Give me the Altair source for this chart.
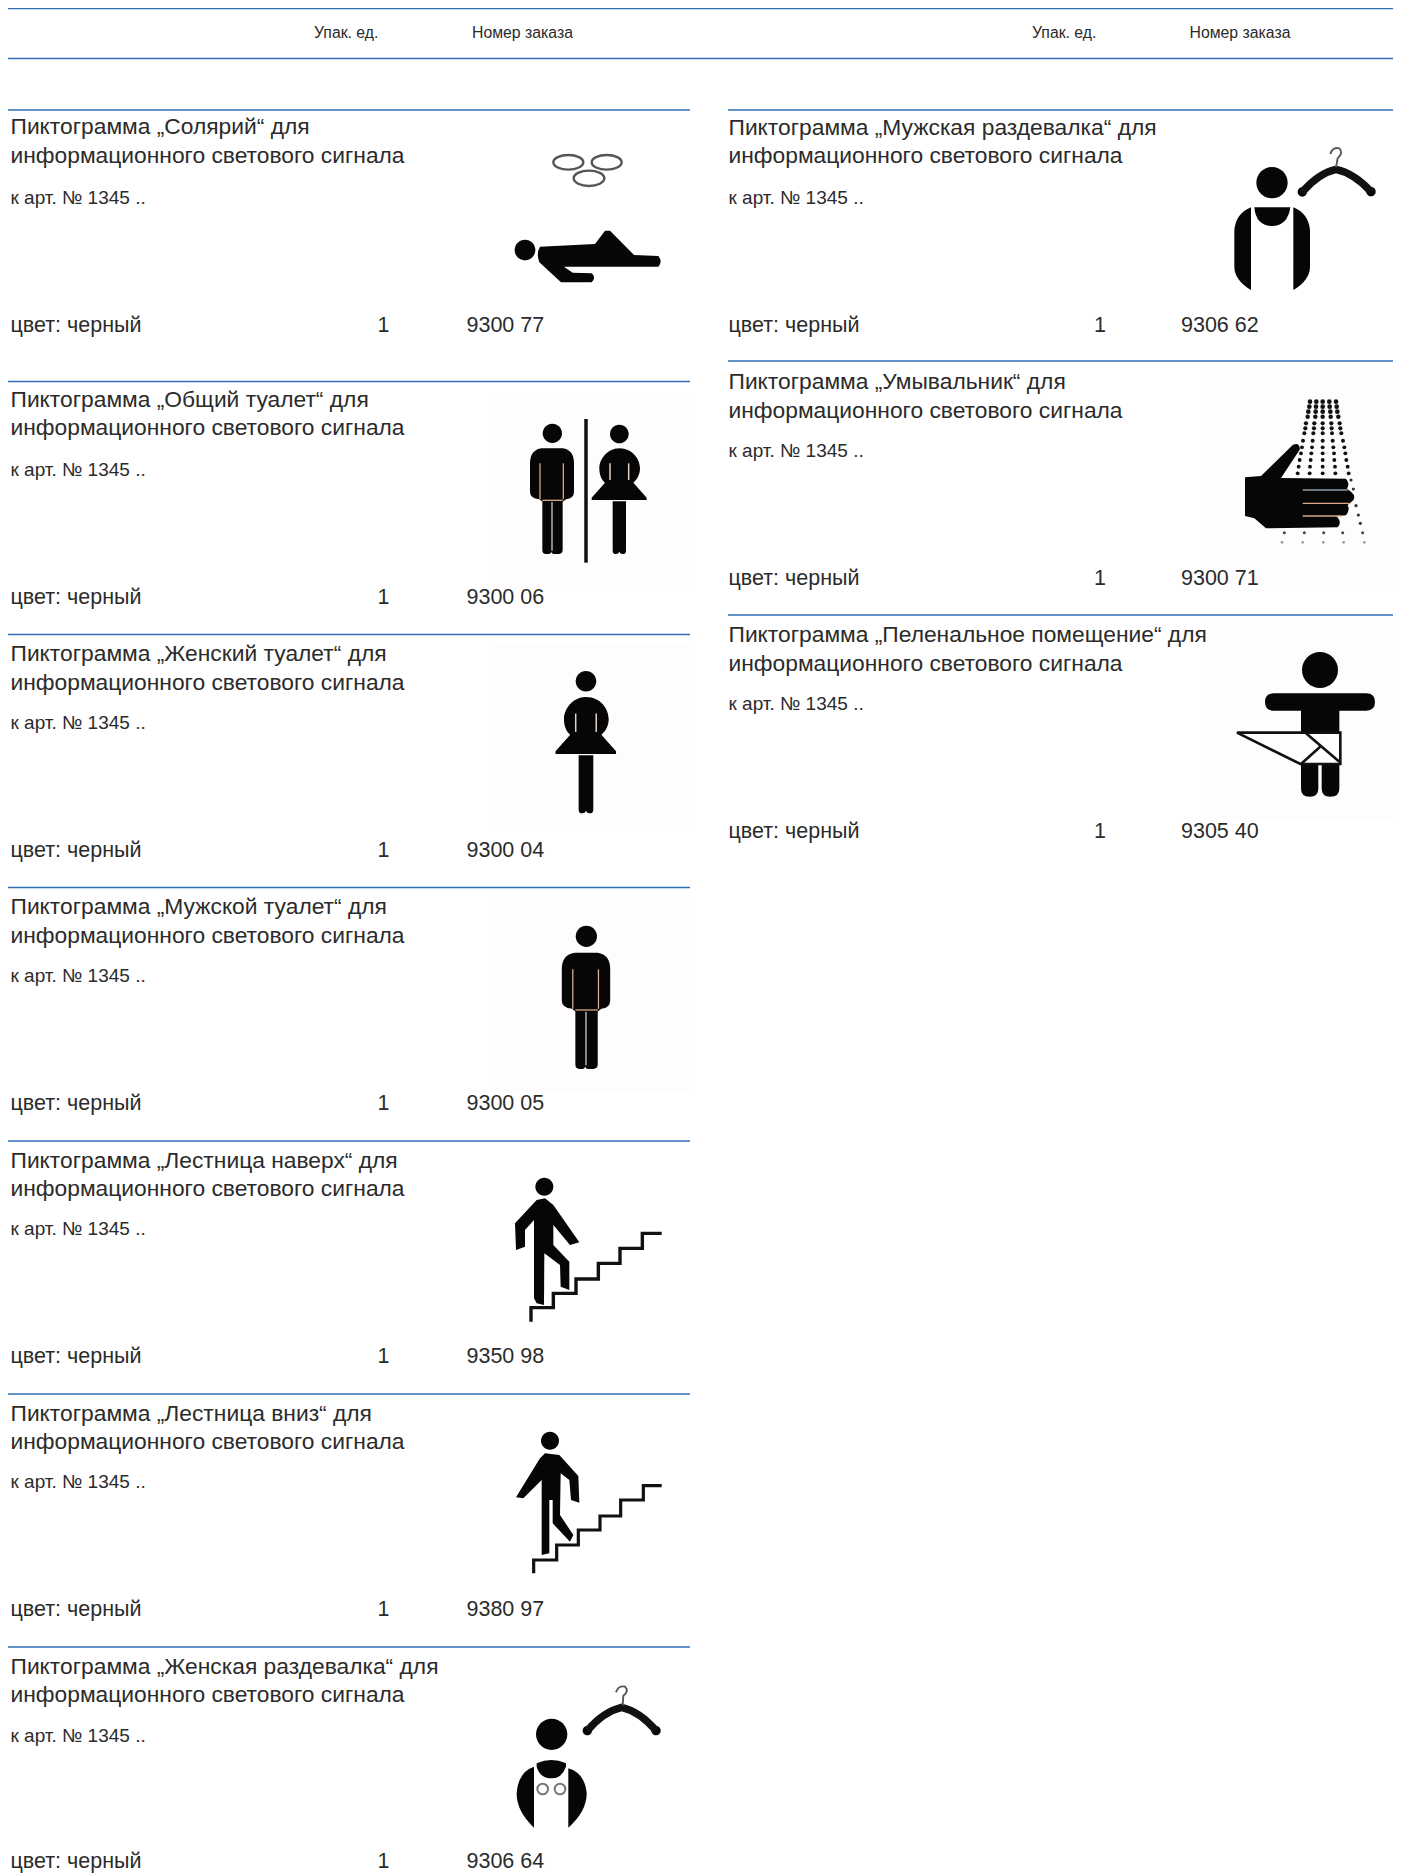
import altair as alt
import pandas as pd

RULE_BLUE = "#2f6fb3"
TEXT = "#2b2b2b"
FONT = "Liberation Sans"

# page header
HEADER_X = [314, 472, 1032, 1189.5]
HEADER_LABELS = ["Упак. ед.", "Номер заказа", "Упак. ед.", "Номер заказа"]
HEADER_Y = 33
HEADER_RULES_Y = [8.5, 58.5]

# catalogue rows
ROW_X = [10.5, 10.5, 10.5, 10.5, 10.5, 10.5, 10.5, 728.5, 728.5, 728.5]
ROW_RULE_Y = [110, 381.5, 634.5, 887.5, 1141, 1394, 1647, 110, 361, 615]
ROW_L1_Y = [127, 399.5, 654, 906.5, 1161, 1414, 1667, 127.5, 381.5, 634.5]
ROW_L2_Y = [156, 428, 683, 935.5, 1189, 1442, 1694.5, 156, 410.5, 663.5]
ROW_REF_Y = [198, 469.5, 722.5, 975.5, 1229, 1482, 1735.5, 198, 450.5, 703.5]
ROW_BOTTOM_Y = [326, 597.5, 851, 1104, 1357, 1610, 1862, 326, 579, 832]
ROW_TITLES = [
    "Пиктограмма „Солярий“ для",
    "Пиктограмма „Общий туалет“ для",
    "Пиктограмма „Женский туалет“  для",
    "Пиктограмма „Мужской туалет“ для",
    "Пиктограмма „Лестница наверх“ для",
    "Пиктограмма „Лестница вниз“ для",
    "Пиктограмма „Женская раздевалка“  для",
    "Пиктограмма „Мужская раздевалка“ для",
    "Пиктограмма „Умывальник“ для",
    "Пиктограмма „Пеленальное помещение“ для",
]
ROW_SECOND_LINE = "информационного светового сигнала"
ROW_REF = "к арт. № 1345 .."
ROW_COLOUR = "цвет: черный"
ROW_QTY = "1"
ROW_ORDER = ["9300 77", "9300 06", "9300 04", "9300 05", "9350 98",
             "9380 97", "9306 64", "9306 62", "9300 71", "9305 40"]
ROW_QTY_X = [377.5, 377.5, 377.5, 377.5, 377.5, 377.5, 377.5, 1094, 1094, 1094]
ROW_ORDER_X = [466.5, 466.5, 466.5, 466.5, 466.5, 466.5, 466.5, 1181, 1181, 1181]
COLUMN_LEFT = [8, 8, 8, 8, 8, 8, 8, 728, 728, 728]
COLUMN_RIGHT = [690, 690, 690, 690, 690, 690, 690, 1401, 1401, 1401]

# faint image backgrounds: left, right, top, bottom
TINT_X1 = [490, 490, 490, 1206, 1206]
TINT_X2 = [690, 690, 690, 1401, 1401]
TINT_Y1 = [392, 645, 898, 370, 622]
TINT_Y2 = [590, 830, 1092, 585, 820]


def oval(cx, cy, rx, ry=None):
    ry = rx if ry is None else ry
    kx, ky = rx * 0.5523, ry * 0.5523
    return (f"M{cx-rx},{cy} C{cx-rx},{cy-ky} {cx-kx},{cy-ry} {cx},{cy-ry} "
            f"C{cx+kx},{cy-ry} {cx+rx},{cy-ky} {cx+rx},{cy} "
            f"C{cx+rx},{cy+ky} {cx+kx},{cy+ry} {cx},{cy+ry} "
            f"C{cx-kx},{cy+ry} {cx-rx},{cy+ky} {cx-rx},{cy} Z")


MAN_FILL = [
    oval(187, 100, 29),
    "M155,145 L218,145 Q252,150 252,190 L252,275 Q252,295 228,298 L218,305 L218,450 Q218,462 205,462 "
    "L195,462 Q185,462 184,455 Q183,462 172,462 L168,462 Q157,462 157,450 L157,305 L148,298 "
    "Q120,295 120,275 L120,190 Q120,150 155,145 Z",
]
MAN_LINES = [
    ("M150,190 L150,298", "#d9a98a", 1.3),
    ("M220,190 L220,298", "#d9a98a", 1.3),
    ("M157,301 L218,301", "#d9a98a", 1.3),
    ("M186,306 L186,452", "#dddddd", 1.2),
]
WOMAN_FILL = [
    oval(388, 102, 28),
    "M388,145 C430,145 450,180 450,205 C450,225 440,240 430,248 L470,293 L470,300 L305,300 L305,293 "
    "L345,248 C335,240 328,225 328,205 C328,180 350,145 388,145 Z",
    "M368,304 L408,304 L408,452 Q408,462 398,462 Q390,462 388,455 Q386,462 378,462 Q368,462 368,452 Z",
]
WOMAN_LINES = [
    ("M360,190 L360,240", "#e6d2c4", 1.5),
    ("M416,190 L416,240", "#e6d2c4", 1.5),
]

PICTO_FILLS = {
    "solarium": [
        oval(105, 360, 31),
        "M150,350 L315,342 L345,302 L360,302 L432,375 L505,378 Q519,395 505,410 L222,410 L248,428 L305,430 "
        "Q320,442 305,457 L213,457 L148,397 Q138,370 150,350 Z",
    ],
    "wc": MAN_FILL + WOMAN_FILL,
    "woman": WOMAN_FILL,
    "man": MAN_FILL,
    "up": [
        oval(163, 65, 27),
        "M165,100 L190,120 L268,232 L240,240 L190,180 L190,240 L238,290 L238,375 L212,365 L210,300 L163,265 "
        "L162,420 L140,415 L132,400 L132,165 L105,195 L105,245 L78,255 L75,175 L140,105 Z",
    ],
    "down": [
        oval(180, 62, 27),
        "M165,100 L208,105 L265,168 L268,248 L243,240 L238,180 L212,160 L210,285 L250,345 L240,365 L188,310 "
        "L188,240 L178,240 L178,400 L155,405 L155,180 L100,235 L78,232 L150,115 Z",
    ],
    "wardrobe_f": [
        oval(185, 208, 47),
        oval(292, 197, 14),
        oval(498, 197, 14),
        "M140,295 Q185,275 228,295 L228,305 Q215,340 185,340 Q150,340 140,305 Z",
        "M132,305 L132,488 Q80,440 80,385 Q85,320 132,305 Z",
        "M235,310 L235,488 Q290,440 290,385 Q285,325 235,310 Z",
    ],
    "wardrobe_m": [
        oval(213, 158, 47),
        oval(304, 186, 14),
        oval(510, 185, 14),
        "M160,232 L268,232 Q260,288 213,288 Q165,288 160,232 Z",
        "M150,232 L150,480 Q100,450 100,410 L100,300 Q105,250 150,232 Z",
        "M277,232 L277,480 Q327,450 327,410 L327,300 Q322,250 277,232 Z",
    ],
    "hand": [
        "M132,262 L180,258 L275,165 Q295,155 297,178 L240,264 L435,266 Q448,280 438,296 L450,305 Q470,322 450,337 "
        "L440,345 Q448,360 435,376 L405,378 Q425,395 410,412 L195,415 L160,385 L132,378 Z",
    ],
    "baby": [
        oval(357, 90, 54),
        "M218,160 L496,160 Q522,160 522,186 Q522,212 496,212 L415,212 L415,278 L300,278 L300,212 L218,212 "
        "Q192,212 192,186 Q192,160 218,160 Z",
        "M300,372 L352,372 L352,446 Q352,470 326,470 Q300,470 300,446 Z",
        "M362,372 L415,372 L415,446 Q415,470 388,470 Q362,470 362,446 Z",
    ],
}
PICTO_LINES = {
    "solarium": [
        (oval(235, 97, 45, 22), "#555555", 2.4),
        (oval(350, 97, 45, 22), "#555555", 2.4),
        (oval(297, 145, 46, 23), "#555555", 2.4),
    ],
    "wc": MAN_LINES + WOMAN_LINES + [("M288,57 L288,488", "#111111", 3.5)],
    "woman": WOMAN_LINES,
    "man": MAN_LINES,
    "up": [("M123,470 L123,428 L190,428 L190,385 L258,385 L258,342 L325,342 L325,295 L390,295 L390,250 L457,250 L457,205 L515,205",
            "#111111", 3.4)],
    "down": [("M131,460 L131,420 L200,420 L200,375 L265,375 L265,330 L330,330 L330,288 L392,288 L392,240 L460,240 L460,197 L515,197",
              "#111111", 3.2)],
    "wardrobe_f": [
        ("M292,197 Q340,140 395,127 Q450,140 498,197", "#111111", 7.5),
        ("M378,82 Q385,60 405,65 Q418,78 400,92 L398,122", "#555555", 1.9),
        (oval(158, 372, 16), "#777777", 2),
        (oval(210, 372, 16), "#777777", 2),
    ],
    "wardrobe_m": [
        ("M304,186 Q352,130 405,118 Q460,130 510,185", "#111111", 7.5),
        ("M388,72 Q395,50 415,55 Q428,68 410,85 L405,112", "#555555", 1.9),
    ],
    "hand": [
        ("M305,300 L440,300", "#8f9aa5", 1.4),
        ("M305,340 L445,340", "#d9a98a", 1.4),
        ("M305,378 L420,378", "#d9a98a", 1.4),
    ],
    "baby": [
        ("M108,278 L418,278 L418,372 L298,372 Z", "#111111", 2.6),
        ("M315,280 L415,365", "#111111", 2.6),
        ("M300,372 L360,318", "#111111", 2.6),
    ],
}
# where each pictogram sits: name, left, top, zoom
PICTO_NAME = ["solarium", "wc", "woman", "man", "up", "down", "wardrobe_f", "wardrobe_m", "hand", "baby"]
PICTO_X = [490, 490, 443.7, 517.8, 490, 490, 490, 1201, 1201, 1201]
PICTO_Y = [130, 400, 643.9, 899.6, 1165, 1420, 1665, 130, 390, 640]
PICTO_ZOOM = [1, 1, 1.1, 1.1, 1, 1, 1, 1, 1, 1]

# shower drops of the hand pictogram, row by row
DROP_ROW_Y = [35, 50, 65, 80, 100, 115, 130, 152, 172, 190, 210, 230, 250]
DROP_ROW_S = [22, 22, 22, 20, 18, 18, 16, 16, 15, 15, 15, 15, 15]
DROP_ROW_X = [
    [327, 346, 365, 385, 405], [325, 345, 365, 386, 407], [322, 344, 365, 388, 409],
    [320, 343, 365, 389, 412], [315, 340, 365, 391, 416], [313, 339, 365, 392, 418],
    [310, 337, 365, 393, 421], [306, 335, 365, 395, 426], [303, 333, 365, 397, 430],
    [300, 331, 365, 399, 433], [296, 329, 365, 400, 436], [293, 327, 365, 402, 440],
    [290, 326, 365, 403, 443],
]
DROP_EDGE_X = [450, 457, 465, 472, 478]
DROP_EDGE_Y = [270, 297, 347, 375, 400]
DROP_LOW_X = [250, 310, 368, 425, 485]
DROP_LOW_Y = 428
DROP_FAINT_X = [243, 305, 367, 428, 490]
DROP_FAINT_Y = 457
HAND_X, HAND_Y = 1201, 390

X = alt.X("x:Q", scale=alt.Scale(domain=[8, 1393], nice=False, zero=False), axis=None)
Y = alt.Y("y:Q", scale=alt.Scale(domain=[1873, 8], nice=False, zero=False), axis=None)
X2 = alt.X2("x2:Q")
Y2 = alt.Y2("y2:Q")


def text_layer(rows, size):
    return alt.Chart(pd.DataFrame(rows, columns=["x", "y", "t"])).mark_text(
        font=FONT, fontSize=size, align="left", baseline="middle", color=TEXT
    ).encode(x=X, y=Y, text="t:N")


rules = [(8, 1401, y, 1.6) for y in HEADER_RULES_Y]
rules += [(x, r, y, 1.4) for x, r, y in zip(COLUMN_LEFT, COLUMN_RIGHT, ROW_RULE_Y)]
rule_layer = alt.Chart(pd.DataFrame(rules, columns=["x", "x2", "y", "w"])).mark_rule(color=RULE_BLUE).encode(
    x=X, x2=X2, y=Y, strokeWidth=alt.StrokeWidth("w:Q", scale=None, legend=None)
)

tint_layer = alt.Chart(pd.DataFrame({"x": TINT_X1, "x2": TINT_X2, "y": TINT_Y1, "y2": TINT_Y2})).mark_rect(
    color="#fefcfc"
).encode(x=X, x2=X2, y=Y, y2=Y2)

header_layer = text_layer([(x, HEADER_Y, t) for x, t in zip(HEADER_X, HEADER_LABELS)], 15.8)
title_layer = text_layer(
    list(zip(ROW_X, ROW_L1_Y, ROW_TITLES)) + [(x, y, ROW_SECOND_LINE) for x, y in zip(ROW_X, ROW_L2_Y)], 22.8
)
ref_layer = text_layer([(x, y, ROW_REF) for x, y in zip(ROW_X, ROW_REF_Y)], 19)
bottom = [(x, y, ROW_COLOUR) for x, y in zip(ROW_X, ROW_BOTTOM_Y)]
bottom += [(x, y, ROW_QTY) for x, y in zip(ROW_QTY_X, ROW_BOTTOM_Y)]
bottom += [(x, y, o) for x, y, o in zip(ROW_ORDER_X, ROW_BOTTOM_Y, ROW_ORDER)]
bottom_layer = text_layer(bottom, 21.5)

fills, lines = [], []
for name, px, py, z in zip(PICTO_NAME, PICTO_X, PICTO_Y, PICTO_ZOOM):
    size = (2 * z / 3) ** 2  # path units are thirds of a pixel
    for p in PICTO_FILLS[name]:
        fills.append({"x": px, "y": py, "p": p, "s": size, "c": "#060606"})
    for p, c, w in PICTO_LINES[name]:
        lines.append({"x": px, "y": py, "p": p, "s": size, "c": c, "w": w})

SHAPE = alt.Shape("p:N", scale=None, legend=None)
SIZE = alt.Size("s:Q", scale=None, legend=None)
COL = alt.Color("c:N", scale=None, legend=None)
fill_layer = alt.Chart(pd.DataFrame(fills)).mark_point(filled=True, opacity=1, strokeWidth=0).encode(
    x=X, y=Y, shape=SHAPE, size=SIZE, color=COL
)
line_layer = alt.Chart(pd.DataFrame(lines)).mark_point(filled=False, opacity=1, strokeCap="butt", strokeJoin="miter").encode(
    x=X, y=Y, shape=SHAPE, size=SIZE, color=COL,
    strokeWidth=alt.StrokeWidth("w:Q", scale=None, legend=None),
)

drops = []
for yy, ss, xs in zip(DROP_ROW_Y, DROP_ROW_S, DROP_ROW_X):
    for xx in xs:
        drops.append((HAND_X + xx / 3, HAND_Y + yy / 3, ss, "#111111"))
for xx, yy in zip(DROP_EDGE_X, DROP_EDGE_Y):
    drops.append((HAND_X + xx / 3, HAND_Y + yy / 3, 10, "#333333"))
for xx in DROP_LOW_X:
    drops.append((HAND_X + xx / 3, HAND_Y + DROP_LOW_Y / 3, 9, "#444444"))
for xx in DROP_FAINT_X:
    drops.append((HAND_X + xx / 3, HAND_Y + DROP_FAINT_Y / 3, 7, "#999999"))
drop_layer = alt.Chart(pd.DataFrame(drops, columns=["x", "y", "s", "c"])).mark_circle(opacity=1).encode(
    x=X, y=Y, size=SIZE, color=COL
)

chart = alt.layer(
    tint_layer, rule_layer, header_layer, drop_layer, fill_layer, line_layer,
    title_layer, ref_layer, bottom_layer,
).properties(
    width=1385, height=1865, padding=0, background="white",
    autosize=alt.AutoSizeParams(type="none"),
).configure_view(stroke=None)

chart.save("out.html", embed_options={"renderer": "svg", "actions": False})
